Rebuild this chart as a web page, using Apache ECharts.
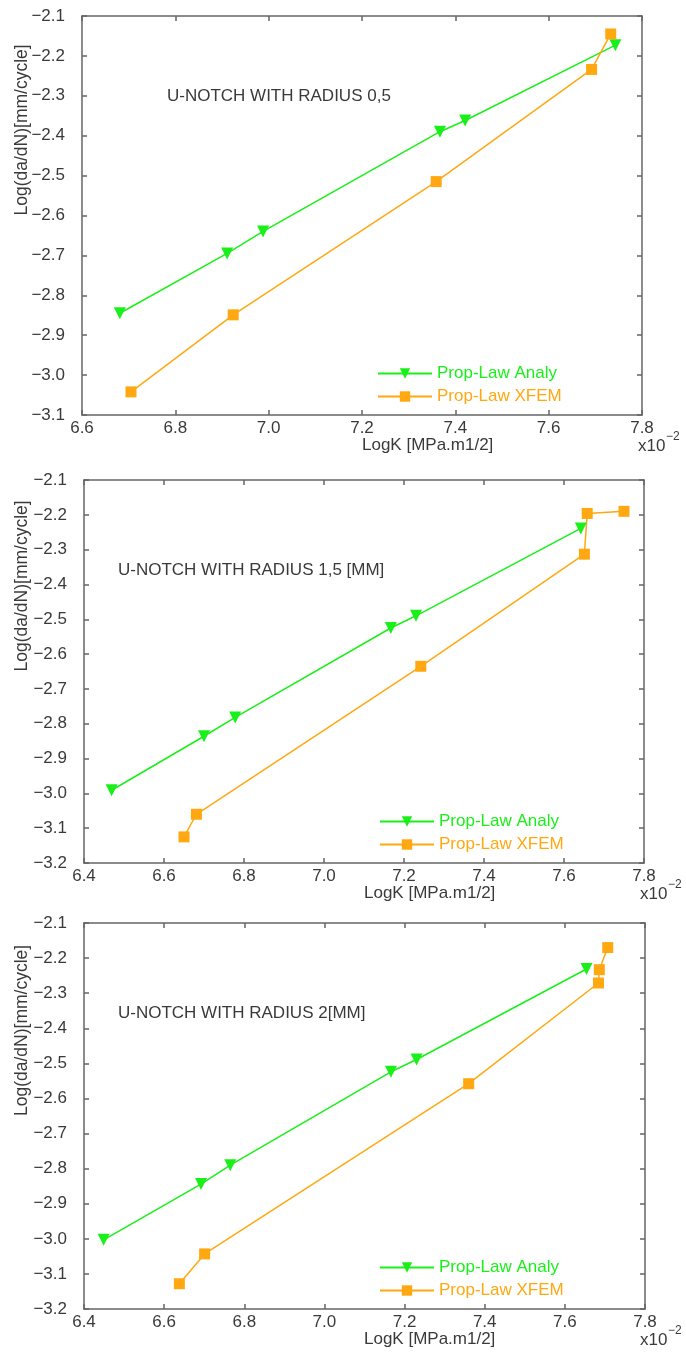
<!DOCTYPE html>
<html>
<head>
<meta charset="utf-8">
<script src="https://cdn.jsdelivr.net/npm/echarts@6/dist/echarts.min.js"></script>
<style>
  html, body { margin: 0; padding: 0; background: #fff; }
  #chart { width: 686px; height: 1355px; }
</style>
</head>
<body>
<div id="chart"></div>
<script>
// ---- data ----
const panelTitles = ['U-NOTCH WITH RADIUS 0,5', 'U-NOTCH WITH RADIUS 1,5 [MM]', 'U-NOTCH WITH RADIUS 2[MM]'];
const seriesNames = ['Prop-Law Analy', 'Prop-Law XFEM'];
const xMin = [6.6, 6.4, 6.4];
const xMax = [7.8, 7.8, 7.8];
const yMin = [-3.1, -3.2, -3.2];
const yMax = [-2.1, -2.1, -2.1];

// radius 0.5
const analyX1 = [6.681, 6.911, 6.988, 7.367, 7.421, 7.743];
const analyY1 = [-2.845, -2.695, -2.640, -2.390, -2.362, -2.173];
const xfemX1 = [6.705, 6.924, 7.359, 7.692, 7.733];
const xfemY1 = [-3.042, -2.849, -2.515, -2.234, -2.145];

// radius 1.5
const analyX2 = [6.469, 6.700, 6.778, 7.167, 7.230, 7.642];
const analyY2 = [-2.991, -2.836, -2.782, -2.525, -2.490, -2.239];
const xfemX2 = [6.650, 6.681, 7.242, 7.651, 7.658, 7.750];
const xfemY2 = [-3.125, -3.060, -2.635, -2.313, -2.196, -2.190];

// radius 2
const analyX3 = [6.449, 6.692, 6.765, 7.166, 7.230, 7.654];
const analyY3 = [-3.003, -2.844, -2.790, -2.524, -2.489, -2.231];
const xfemX3 = [6.638, 6.701, 7.360, 7.684, 7.686, 7.707];
const xfemY3 = [-3.128, -3.043, -2.558, -2.271, -2.233, -2.170];

const analyX = [analyX1, analyX2, analyX3];
const analyY = [analyY1, analyY2, analyY3];
const xfemX = [xfemX1, xfemX2, xfemX3];
const xfemY = [xfemY1, xfemY2, xfemY3];

// ---- layout ----
const grids = [
  { left: 82, top: 16, width: 560, height: 399 },
  { left: 84, top: 480, width: 560, height: 383 },
  { left: 84, top: 923, width: 561, height: 386 }
];
const GREEN = '#1aef1a';
const ORANGE = '#ffa812';
const AXIS = '#666';
const TEXT = '#3a3a3a';
const FONT = '"Liberation Sans", Arial, sans-serif';

const zip = (xs, ys) => xs.map((x, i) => [x, ys[i]]);
const minus = v => v.toFixed(1).replace('-', '\u2212');

const chart = echarts.init(document.getElementById('chart'), null, { renderer: 'canvas' });

const xAxes = [];
const yAxes = [];
const series = [];
const legends = [];
const graphics = [];

grids.forEach((g, i) => {
  const lineStyle = { color: AXIS, width: 1.5 };
  const tick = { show: true, inside: true, length: 5, lineStyle };
  ['bottom', 'top'].forEach(pos => {
    xAxes.push({
      type: 'value', gridIndex: i, position: pos,
      min: xMin[i], max: xMax[i], interval: 0.2,
      axisLine: { show: true, onZero: false, lineStyle },
      axisTick: tick,
      axisLabel: {
        show: pos === 'bottom', color: TEXT, fontSize: 17, fontFamily: FONT, margin: 5,
        formatter: v => v.toFixed(1)
      },
      splitLine: { show: false }
    });
  });
  ['left', 'right'].forEach(pos => {
    yAxes.push({
      type: 'value', gridIndex: i, position: pos,
      min: yMin[i], max: yMax[i], interval: 0.1,
      axisLine: { show: true, onZero: false, lineStyle },
      axisTick: tick,
      axisLabel: {
        show: pos === 'left', color: TEXT, fontSize: 17, fontFamily: FONT, margin: 17,
        formatter: minus
      },
      splitLine: { show: false }
    });
  });

  series.push({
    name: seriesNames[0], type: 'line', xAxisIndex: 2 * i, yAxisIndex: 2 * i,
    data: zip(analyX[i], analyY[i]),
    symbol: 'triangle', symbolRotate: 180, symbolSize: 12,
    lineStyle: { color: GREEN, width: 1.5 },
    itemStyle: { color: GREEN },
    animation: false
  });
  series.push({
    name: seriesNames[1], type: 'line', xAxisIndex: 2 * i, yAxisIndex: 2 * i,
    data: zip(xfemX[i], xfemY[i]),
    symbol: 'rect', symbolSize: 11,
    lineStyle: { color: ORANGE, width: 1.5 },
    itemStyle: { color: ORANGE },
    animation: false
  });

  legends.push({
    orient: 'vertical',
    left: g.left + 290,
    top: g.top + g.height - 55,
    itemWidth: 54, itemHeight: 13, itemGap: 6,
    textStyle: { fontSize: 17, fontFamily: FONT },
    data: [
      { name: seriesNames[0], textStyle: { color: GREEN } },
      { name: seriesNames[1], textStyle: { color: ORANGE } }
    ]
  });

  const cy = g.top + g.height / 2;
  graphics.push(
    {
      type: 'text', left: g.left + (i === 0 ? 85 : 34), top: g.top + (i === 0 ? 72 : 82),
      style: { text: panelTitles[i], fill: TEXT, font: '17px ' + FONT }
    },
    {
      type: 'text', x: 22, y: cy, rotation: Math.PI / 2,
      style: {
        text: 'Log(da/dN)[mm/cycle]', fill: TEXT, font: '17.5px ' + FONT,
        align: 'left', verticalAlign: 'middle'
      }
    },
    {
      type: 'text', left: g.left + 280, top: g.top + g.height + 22,
      style: { text: 'LogK [MPa.m1/2]', fill: TEXT, font: '17px ' + FONT }
    },
    {
      type: 'text', left: g.left + 556, top: g.top + g.height + 23,
      style: { text: 'x10', fill: TEXT, font: '17px ' + FONT }
    },
    {
      type: 'text', left: g.left + 584, top: g.top + g.height + 16,
      style: { text: '\u22122', fill: TEXT, font: '12px ' + FONT }
    }
  );
});

chart.setOption({
  backgroundColor: '#fff',
  animation: false,
  grid: grids,
  xAxis: xAxes,
  yAxis: yAxes,
  legend: legends,
  series: series,
  graphic: graphics
});
</script>
</body>
</html>
